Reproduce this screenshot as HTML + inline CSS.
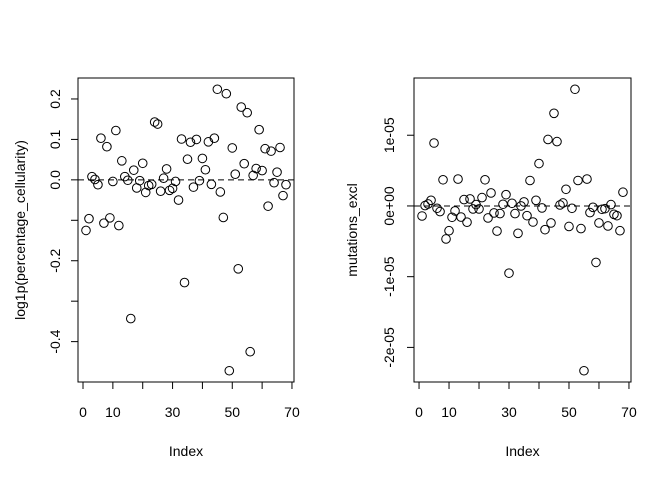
<!DOCTYPE html>
<html><head><meta charset="utf-8"><style>
html,body{margin:0;padding:0;background:#fff}
svg text{font-family:"Liberation Sans",Arial,sans-serif;fill:#000}
</style></head><body>
<svg id="chart" width="672" height="480" viewBox="0 0 672 480" xmlns="http://www.w3.org/2000/svg"></svg>
<script>
const indexValues = Array.from({length:68},(_,k)=>k+1);
const cellularity = [-0.125,-0.096,0.008,0.001,-0.012,0.103,-0.107,0.082,-0.094,-0.004,0.122,-0.113,0.047,0.008,-0.001,-0.343,0.024,-0.02,-0.002,0.041,-0.031,-0.014,-0.011,0.143,0.138,-0.028,0.004,0.027,-0.026,-0.021,-0.004,-0.05,0.101,-0.254,0.051,0.093,-0.018,0.1,-0.002,0.053,0.025,0.094,-0.011,0.103,0.224,-0.03,-0.093,0.213,-0.472,0.079,0.014,-0.22,0.18,0.04,0.166,-0.425,0.011,0.028,0.124,0.023,0.077,-0.065,0.071,-0.007,0.019,0.08,-0.039,-0.012];
const mutationsE6 = [-1.42,0.05,0.28,0.8,8.9,-0.33,-0.8,3.7,-4.67,-3.5,-1.6,-0.7,3.8,-1.57,0.9,-2.3,0.99,-0.42,0.19,-0.42,1.18,3.7,-1.7,1.84,-0.99,-3.55,-1.08,0.24,1.6,-9.5,0.38,-1.08,-3.87,0,0.57,-1.37,3.6,-2.27,0.8,6.0,-0.28,-3.35,9.4,-2.4,13.1,9.1,0.14,0.42,2.36,-2.9,-0.33,16.5,3.6,-3.2,-23.3,3.8,-0.94,-0.19,-7.98,-2.4,-0.47,-0.38,-2.83,0.19,-1.18,-1.37,-3.5,1.94];
const xTicks = [0,10,20,30,40,50,60,70];
const xTickLabels = ["0","10","","30","","50","","70"];
const leftYTicks = [-0.4,-0.3,-0.2,-0.1,0,0.1,0.2];
const leftYTickLabels = ["-0.4","","-0.2","","0.0","0.1","0.2"];
const rightYTicks = [-2e-5,-1e-5,0,1e-5];
const rightYTickLabels = ["-2e-05","-1e-05","0e+00","1e-05"];

const NS="http://www.w3.org/2000/svg";
const svg=document.getElementById('chart');
function mk(tag,attrs,parent){const e=document.createElementNS(NS,tag);for(const k in attrs)e.setAttribute(k,attrs[k]);(parent||svg).appendChild(e);return e;}
function ext(a){let mn=Math.min(...a),mx=Math.max(...a),r=mx-mn;return [mn-0.04*r,mx+0.04*r];}
const FS='14';

function panel(name,left,right,top,bottom,xs,ys,yt,ytl,title,titleX,tickLabelX){
  const g=mk('g',{});
  
  
  const [x0,x1]=ext(xs),[y0,y1]=ext(ys);
  const sx=v=>left+(v-x0)/(x1-x0)*(right-left);
  const sy=v=>bottom-(v-y0)/(y1-y0)*(bottom-top);
  const box=mk('rect',{x:left,y:top,width:right-left,height:bottom-top,fill:'none',stroke:'#000','stroke-width':1},g);
  
  
  const ref=mk('line',{x1:left,x2:right,y1:sy(0),y2:sy(0),stroke:'#000','stroke-dasharray':'6,4'},g);
  
  
  const xa=mk('g',{},g);
  
  
  mk('line',{x1:sx(xTicks[0]),x2:sx(xTicks[xTicks.length-1]),y1:bottom,y2:bottom,stroke:'#000'},xa);
  xTicks.forEach((t,k)=>{
    mk('line',{x1:sx(t),x2:sx(t),y1:bottom,y2:bottom+7,stroke:'#000'},xa);
    if(xTickLabels[k]){const tx=mk('text',{x:sx(t),y:bottom+35,'text-anchor':'middle','font-size':FS},xa);tx.textContent=xTickLabels[k];
      
      }
  });
  const xt=mk('text',{x:(left+right)/2,y:456,'text-anchor':'middle','font-size':FS},g);
  xt.textContent='Index';
  
  
  const ya=mk('g',{},g);
  
  
  mk('line',{x1:left,x2:left,y1:sy(yt[0]),y2:sy(yt[yt.length-1]),stroke:'#000'},ya);
  yt.forEach((t,k)=>{
    mk('line',{x1:left-7,x2:left,y1:sy(t),y2:sy(t),stroke:'#000'},ya);
    if(ytl[k]){const tx=mk('text',{x:tickLabelX,y:sy(t),'text-anchor':'middle','font-size':FS,transform:`rotate(-90 ${tickLabelX} ${sy(t)})`,dy:'0.35em'},ya);tx.textContent=ytl[k];
      
      }
  });
  const yty=(top+bottom)/2;
  const ytt=mk('text',{x:titleX,y:yty,'text-anchor':'middle','font-size':FS,transform:`rotate(-90 ${titleX} ${yty})`,dy:'0.35em'},g);
  ytt.textContent=title;
  
  
  xs.forEach((x,k)=>{
    const c=mk('circle',{cx:sx(x),cy:sy(ys[k]),r:4.3,fill:'none',stroke:'#000','stroke-width':1},g);
    
    
  });
}
panel('left-panel',78,294,78,382,indexValues,cellularity,leftYTicks,leftYTickLabels,'log1p(percentage_cellularity)',20,55);
const mut=mutationsE6.map(v=>v*1e-6);
panel('right-panel',414,631,78,382,indexValues,mut,rightYTicks,rightYTickLabels,'mutations_excl',352,389);
</script>
</body></html>
